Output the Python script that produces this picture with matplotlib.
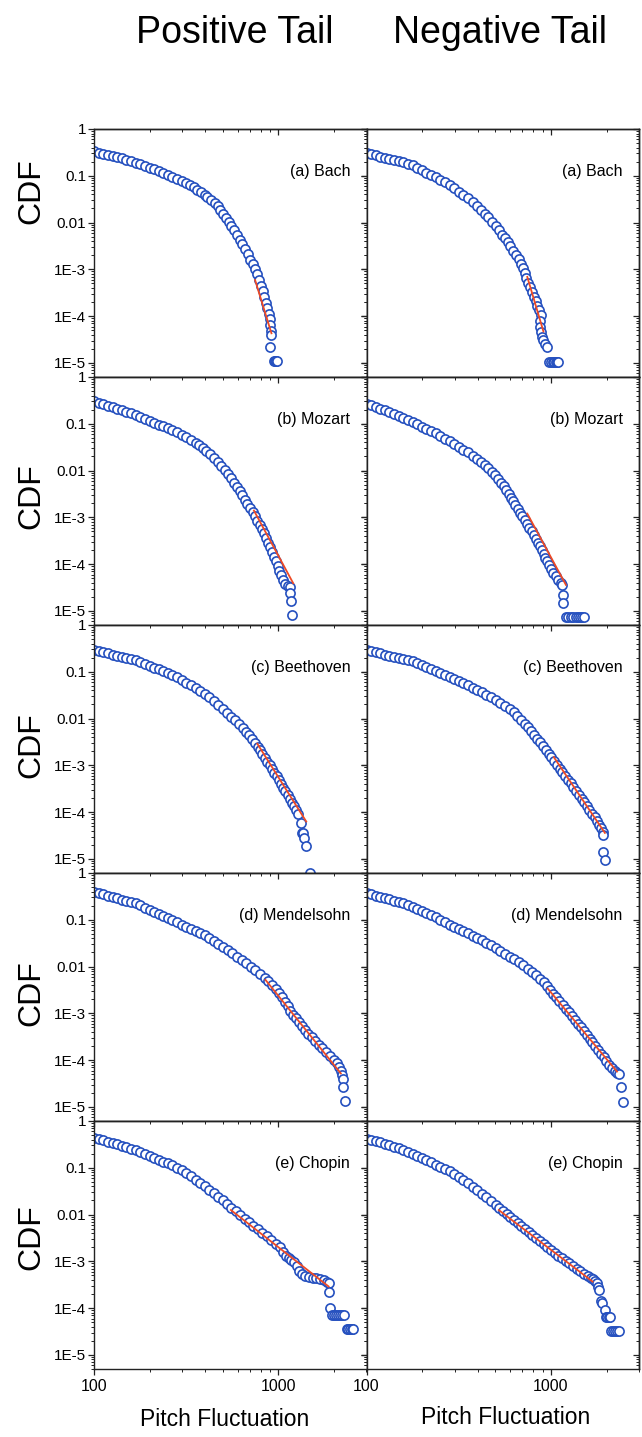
import matplotlib
matplotlib.use("Agg")
import matplotlib.pyplot as plt
from matplotlib.ticker import FixedLocator, FixedFormatter, NullFormatter, LogLocator

FONT = ["Liberation Sans", "DejaVu Sans"]

column_titles = ["Positive Tail", "Negative Tail"]
composers = ["(a) Bach", "(b) Mozart", "(c) Beethoven", "(d) Mendelsohn", "(e) Chopin"]

y_ticks = [1, 0.1, 0.01, 1e-3, 1e-4, 1e-5]
y_tick_labels = ["1", "0.1", "0.01", "1E-3", "1E-4", "1E-5"]
x_ticks = [100, 1000]
x_tick_labels = ["100", "1000"]

# x values of the dense, slowly falling head shared by every curve
head_x = [100, 106, 112, 119, 126, 133, 141, 150, 158, 168, 178, 188, 200, 211, 224, 237, 251,
          266, 282, 299]

# ---- (a) Bach ----
bach_pos_x = head_x + [316, 331, 347, 363, 380, 398, 412, 432, 450, 468, 484, 501, 519, 537, 556,
                       575, 596, 617, 638, 661, 684, 705, 724, 745, 766, 785, 804, 822, 839, 855,
                       871, 885, 895, 904, 908, 906, 902, 940, 955, 970, 985]
bach_pos_y = [0.331, 0.314, 0.297, 0.282, 0.267, 0.253, 0.239, 0.222, 0.205, 0.189, 0.175, 0.161,
              0.149, 0.137, 0.125, 0.114, 0.104, 0.0944, 0.0861, 0.0776,
              0.069, 0.063, 0.0569, 0.0507, 0.0447, 0.0389, 0.0347, 0.0305, 0.0263, 0.0224,
              0.0186, 0.0155, 0.0126, 0.0102, 0.0083, 0.0068, 0.0054, 0.0043, 0.0034, 0.0027,
              0.0021, 0.00162, 0.00129, 0.0010, 7.8e-4, 5.9e-4, 4.5e-4, 3.4e-4, 2.6e-4, 1.95e-4,
              1.48e-4, 1.12e-4, 8.5e-5, 6.5e-5, 4.9e-5, 4.0e-5, 2.2e-5, 1.1e-5, 1.1e-5, 1.1e-5,
              1.1e-5]
bach_pos_fit_x = [747, 916]
bach_pos_fit_y = [5.9e-4, 4.3e-5]

bach_neg_x = head_x + [316, 335, 355, 376, 398, 417, 437, 457, 479, 501, 522, 543, 562, 582, 603,
                       624, 646, 667, 685, 703, 719, 736, 753, 771, 789, 807, 826, 845, 865, 883,
                       870, 872, 880, 895, 910, 930, 955, 980, 1000, 1020, 1040, 1060, 1075, 1090]
bach_neg_y = [0.302, 0.286, 0.272, 0.258, 0.244, 0.231, 0.219, 0.207, 0.195, 0.182, 0.166, 0.148,
              0.132, 0.117, 0.105, 0.093, 0.083, 0.0733, 0.063, 0.0537,
              0.0457, 0.0389, 0.0327, 0.0272, 0.0221, 0.0186, 0.0155, 0.0129, 0.0105, 0.0083,
              0.0068, 0.0055, 0.0046, 0.0038, 0.0031, 0.0025, 0.00204, 0.00166, 0.00132,
              0.00105, 8.3e-4, 6.6e-4, 5.2e-4, 4.2e-4, 3.3e-4, 2.6e-4, 2.1e-4, 1.66e-4, 1.32e-4,
              1.05e-4, 8e-5, 6e-5, 4.5e-5, 3.6e-5, 3.1e-5, 2.6e-5, 2.2e-5, 1.05e-5, 1.05e-5,
              1.05e-5, 1.05e-5, 1.05e-5, 1.05e-5, 1.05e-5]
bach_neg_fit_x = [744, 910]
bach_neg_fit_y = [6.9e-4, 4.7e-5]

# ---- (b) Mozart ----
mozart_pos_x = head_x + [316, 335, 355, 372, 389, 407, 427, 447, 468, 490, 511, 532, 555, 575,
                         596, 617, 637, 658, 679, 701, 724, 746, 769, 791, 813, 836, 859, 881,
                         904, 925, 946, 968, 989, 1009, 1030, 1052, 1084, 1122, 1153, 1160, 1165,
                         1183]
mozart_pos_y = [0.300, 0.279, 0.259, 0.240, 0.223, 0.207, 0.193, 0.179, 0.166, 0.154, 0.140,
                0.128, 0.116, 0.106, 0.096, 0.0875, 0.0796, 0.0724, 0.0653, 0.0582,
                0.0513, 0.0447, 0.0389, 0.0347, 0.0302, 0.026, 0.0221, 0.0186, 0.0155, 0.0126,
                0.0102, 0.0083, 0.0068, 0.0055, 0.0045, 0.0036, 0.0030, 0.0024, 0.00195,
                0.00158, 0.00129, 0.00105, 8.5e-4, 6.9e-4, 5.6e-4, 4.6e-4, 3.6e-4, 2.9e-4,
                2.3e-4, 1.82e-4, 1.45e-4, 1.15e-4, 9.1e-5, 7.2e-5, 5.8e-5, 4.6e-5, 3.8e-5,
                3.4e-5, 3.2e-5, 2.4e-5, 1.6e-5, 8.1e-6]
mozart_pos_fit_x = [736, 1202]
mozart_pos_fit_y = [1.4e-3, 3.9e-5]

mozart_neg_x = head_x + [316, 335, 355, 376, 398, 417, 437, 457, 479, 498, 516, 535, 553, 571,
                         589, 607, 624, 641, 659, 678, 698, 719, 741, 764, 785, 807, 828, 849,
                         871, 891, 912, 933, 955, 977, 1002, 1030, 1062, 1096, 1130, 1153, 1160,
                         1168, 1205, 1240, 1280, 1320, 1360, 1400, 1440, 1480, 1514]
mozart_neg_y = [0.269, 0.248, 0.229, 0.211, 0.193, 0.176, 0.160, 0.146, 0.133, 0.122, 0.110,
                0.098, 0.087, 0.078, 0.069, 0.062, 0.0543, 0.0479, 0.0422, 0.0372,
                0.0324, 0.0282, 0.0245, 0.0209, 0.0174, 0.0150, 0.0129, 0.0111, 0.0095, 0.0079,
                0.0066, 0.0055, 0.0046, 0.0038, 0.0032, 0.0026, 0.00219, 0.00182, 0.00151,
                0.00126, 0.00105, 8.7e-4, 7.2e-4, 6.0e-4, 5.0e-4, 4.2e-4, 3.5e-4, 2.9e-4,
                2.4e-4, 2.0e-4, 1.66e-4, 1.38e-4, 1.15e-4, 9.5e-5, 7.9e-5, 6.6e-5, 5.5e-5,
                4.6e-5, 4.0e-5, 3.5e-5, 2.2e-5, 1.5e-5, 7.4e-6, 7.4e-6, 7.4e-6, 7.4e-6, 7.4e-6,
                7.4e-6, 7.4e-6, 7.4e-6, 7.4e-6]
mozart_neg_fit_x = [744, 1205]
mozart_neg_fit_y = [1.2e-3, 3.6e-5]

# ---- (c) Beethoven ----
beet_pos_x = head_x + [316, 335, 355, 376, 398, 422, 447, 473, 501, 527, 555, 583, 611, 640, 668,
                       695, 721, 746, 771, 794, 818, 843, 869, 895, 923, 951, 977, 1005, 1033,
                       1062, 1091, 1122, 1153, 1186, 1219, 1250, 1276, 1320, 1340, 1355, 1378,
                       1414, 1490]
beet_pos_y = [0.288, 0.274, 0.259, 0.246, 0.233, 0.221, 0.210, 0.200, 0.188, 0.178, 0.162, 0.148,
              0.135, 0.123, 0.112, 0.102, 0.093, 0.085, 0.076, 0.0668,
              0.0589, 0.0513, 0.0447, 0.0394, 0.0343, 0.0285, 0.0237, 0.0195, 0.016, 0.0133,
              0.011, 0.0091, 0.0076, 0.0063, 0.0052, 0.0044, 0.0036, 0.0030, 0.0025, 0.0021,
              0.00174, 0.00145, 0.0012, 0.0010, 8.3e-4, 6.9e-4, 5.8e-4, 4.8e-4, 4.0e-4, 3.3e-4,
              2.8e-4, 2.3e-4, 1.9e-4, 1.58e-4, 1.32e-4, 1.1e-4, 9.1e-5, 5.8e-5, 3.6e-5, 3.5e-5,
              2.8e-5, 1.9e-5, 5e-6]
beet_pos_fit_x = [768, 1414]
beet_pos_fit_y = [2.9e-3, 6.3e-5]

beet_neg_x = head_x + [316, 335, 355, 376, 398, 422, 447, 473, 501, 531, 562, 596, 627, 658, 689,
                       719, 750, 780, 811, 841, 873, 906, 938, 971, 1005, 1040, 1076, 1114, 1153,
                       1194, 1236, 1279, 1324, 1371, 1419, 1466, 1514, 1563, 1614, 1667, 1722,
                       1778, 1828, 1875, 1905, 1906, 1906, 1960]
beet_neg_y = [0.288, 0.274, 0.259, 0.246, 0.233, 0.221, 0.210, 0.200, 0.191, 0.182, 0.166, 0.151,
              0.138, 0.126, 0.115, 0.105, 0.0955, 0.087, 0.079, 0.0716,
              0.0646, 0.0575, 0.0513, 0.0457, 0.0407, 0.0363, 0.0324, 0.0285, 0.0248, 0.0216,
              0.0186, 0.0158, 0.0135, 0.0112, 0.0093, 0.0078, 0.0065, 0.0054, 0.0045, 0.0037,
              0.0031, 0.0026, 0.00214, 0.00178, 0.00148, 0.00123, 0.00102, 8.5e-4, 7.1e-4,
              5.9e-4, 4.9e-4, 4.1e-4, 3.4e-4, 2.8e-4, 2.3e-4, 1.95e-4, 1.62e-4, 1.35e-4,
              1.12e-4, 9.3e-5, 7.8e-5, 6.5e-5, 5.4e-5, 4.5e-5, 3.7e-5, 3.2e-5, 1.4e-5, 9.4e-6]
beet_neg_fit_x = [1036, 1960]
beet_neg_fit_y = [1.5e-3, 3.6e-5]

# ---- (d) Mendelsohn ----
mend_pos_x = head_x + [316, 335, 355, 376, 398, 422, 447, 473, 501, 531, 562, 596, 631, 668, 708,
                       750, 794, 841, 881, 923, 966, 1007, 1047, 1084, 1122, 1161, 1202, 1247,
                       1294, 1343, 1396, 1452, 1514, 1578, 1648, 1726, 1811, 1905, 1995, 2065,
                       2128, 2178, 2213, 2228, 2225, 2293]
mend_pos_y = [0.398, 0.373, 0.350, 0.328, 0.308, 0.288, 0.270, 0.254, 0.238, 0.223, 0.202, 0.182,
              0.164, 0.148, 0.133, 0.120, 0.108, 0.098, 0.088, 0.079,
              0.0716, 0.0646, 0.0575, 0.0519, 0.0462, 0.0403, 0.0347, 0.0299, 0.0257, 0.0221,
              0.0191, 0.0164, 0.0141, 0.012, 0.010, 0.0083, 0.0069, 0.0058, 0.0049, 0.0041,
              0.0033, 0.0027, 0.0022, 0.00178, 0.00141, 0.00115, 9.3e-4, 7.8e-4, 6.5e-4, 5.4e-4,
              4.5e-4, 3.7e-4, 3.1e-4, 2.6e-4, 2.1e-4, 1.78e-4, 1.48e-4, 1.23e-4, 1.02e-4,
              8.5e-5, 7.1e-5, 5.9e-5, 4.9e-5, 4.0e-5, 2.7e-5, 1.35e-5]
mend_pos_fit_x = [850, 2178]
mend_pos_fit_y = [5.2e-3, 5.2e-5]

mend_neg_x = head_x + [316, 335, 355, 376, 398, 422, 447, 473, 501, 531, 562, 596, 631, 668, 708,
                       750, 794, 832, 871, 912, 951, 989, 1028, 1069, 1112, 1156, 1202, 1250,
                       1297, 1346, 1396, 1449, 1503, 1560, 1618, 1679, 1738, 1799, 1862, 1928,
                       1995, 2065, 2138, 2213, 2291, 2339, 2400, 2470]
mend_neg_y = [0.372, 0.349, 0.328, 0.308, 0.290, 0.272, 0.256, 0.240, 0.225, 0.211, 0.191, 0.172,
              0.155, 0.140, 0.126, 0.112, 0.100, 0.089, 0.079, 0.0708,
              0.0638, 0.0575, 0.0513, 0.0457, 0.0407, 0.0363, 0.0324, 0.0285, 0.0248, 0.0216,
              0.0188, 0.0164, 0.0143, 0.0124, 0.0107, 0.009, 0.0075, 0.0065, 0.0055, 0.0046,
              0.0038, 0.0032, 0.0026, 0.0022, 0.0018, 0.00151, 0.00126, 0.00105, 8.7e-4,
              7.2e-4, 6.0e-4, 5.0e-4, 4.2e-4, 3.5e-4, 2.9e-4, 2.4e-4, 2.0e-4, 1.66e-4,
              1.38e-4, 1.15e-4, 9.5e-5, 7.9e-5, 6.8e-5, 6.0e-5, 5.4e-5, 5.1e-5, 2.7e-5, 1.3e-5]
mend_neg_fit_x = [959, 2280]
mend_neg_fit_y = [3.4e-3, 5.7e-5]

# ---- (e) Chopin ----
chopin_pos_x = head_x + [316, 335, 355, 376, 398, 422, 447, 473, 501, 527, 555, 586, 619, 655,
                         692, 731, 773, 817, 863, 912, 964, 1019, 1059, 1096, 1135, 1175, 1216,
                         1259, 1297, 1343, 1396, 1462, 1531, 1603, 1679, 1758, 1828, 1871, 1890,
                         1900, 1960, 2000, 2050, 2100, 2150, 2200, 2260, 2340, 2390, 2440, 2490,
                         2540]
chopin_pos_y = [0.430, 0.406, 0.383, 0.361, 0.339, 0.316, 0.295, 0.275, 0.257, 0.237, 0.216,
                0.197, 0.180, 0.164, 0.150, 0.136, 0.124, 0.112, 0.100, 0.088,
                0.076, 0.0653, 0.0556, 0.0473, 0.0403, 0.0343, 0.0288, 0.0243, 0.0204, 0.017,
                0.0141, 0.0117, 0.0098, 0.0081, 0.0068, 0.0058, 0.0048, 0.0041, 0.0034, 0.0029,
                0.0024, 0.0020, 0.0016, 0.0013, 0.00117, 0.00107, 9.5e-4, 7.9e-4, 6.3e-4,
                5.4e-4, 4.9e-4, 4.7e-4, 4.5e-4, 4.3e-4, 4.1e-4, 3.9e-4, 3.6e-4, 3.4e-4, 2.2e-4,
                1e-4, 7e-5, 7e-5, 7e-5, 7e-5, 7e-5, 7e-5, 7e-5, 3.6e-5, 3.6e-5, 3.6e-5, 3.6e-5,
                3.6e-5]
chopin_pos_fit_x = [552, 1870]
chopin_pos_fit_y = [1.25e-2, 2.9e-4]

chopin_neg_x = head_x + [316, 335, 355, 376, 398, 422, 447, 473, 501, 525, 550, 575, 603, 631,
                         661, 692, 724, 759, 794, 832, 871, 912, 955, 1000, 1047, 1096, 1148,
                         1202, 1259, 1318, 1380, 1445, 1514, 1585, 1641, 1690, 1738, 1778, 1799,
                         1828, 1860, 1900, 1960, 1980, 2020, 2060, 2090, 2115, 2170, 2230, 2290,
                         2340]
chopin_neg_y = [0.41, 0.389, 0.369, 0.348, 0.327, 0.305, 0.282, 0.260, 0.240, 0.219, 0.197,
                0.178, 0.160, 0.145, 0.130, 0.117, 0.106, 0.0955, 0.085, 0.074,
                0.0638, 0.0543, 0.0462, 0.0389, 0.0327, 0.0275, 0.0232, 0.0195, 0.0164, 0.0140,
                0.0120, 0.0103, 0.0088, 0.0076, 0.0066, 0.0057, 0.0049, 0.0042, 0.0036, 0.0031,
                0.0027, 0.0023, 0.0020, 0.00175, 0.00152, 0.00133, 0.00116, 0.00102, 9.0e-4,
                7.9e-4, 6.9e-4, 6.1e-4, 5.4e-4, 4.8e-4, 4.4e-4, 4.1e-4, 3.8e-4, 3.4e-4, 2.8e-4,
                2.5e-4, 1.4e-4, 1.3e-4, 9e-5, 6.6e-5, 6.6e-5, 6.6e-5, 6.6e-5, 3.2e-5, 3.2e-5,
                3.2e-5, 3.2e-5, 3.2e-5]
chopin_neg_fit_x = [521, 1680]
chopin_neg_fit_y = [1.25e-2, 3.7e-4]

panels = [
    [(bach_pos_x, bach_pos_y, bach_pos_fit_x, bach_pos_fit_y),
     (bach_neg_x, bach_neg_y, bach_neg_fit_x, bach_neg_fit_y)],
    [(mozart_pos_x, mozart_pos_y, mozart_pos_fit_x, mozart_pos_fit_y),
     (mozart_neg_x, mozart_neg_y, mozart_neg_fit_x, mozart_neg_fit_y)],
    [(beet_pos_x, beet_pos_y, beet_pos_fit_x, beet_pos_fit_y),
     (beet_neg_x, beet_neg_y, beet_neg_fit_x, beet_neg_fit_y)],
    [(mend_pos_x, mend_pos_y, mend_pos_fit_x, mend_pos_fit_y),
     (mend_neg_x, mend_neg_y, mend_neg_fit_x, mend_neg_fit_y)],
    [(chopin_pos_x, chopin_pos_y, chopin_pos_fit_x, chopin_pos_fit_y),
     (chopin_neg_x, chopin_neg_y, chopin_neg_fit_x, chopin_neg_fit_y)],
]

# where the rotated "CDF" sits in each row (pixels from the top)
cdf_label_y = [191, 496, 745, 993, 1237]

W, H = 642, 1437
fig = plt.figure(figsize=(W / 100, H / 100), dpi=100)
fig.patch.set_facecolor("white")
axes = fig.subplots(5, 2, sharex=True, sharey=True,
                    gridspec_kw=dict(left=94 / W, right=639 / W, top=1 - 129 / H,
                                     bottom=1 - 1369 / H, wspace=0, hspace=0))

marker_color = "#2550bf"
fit_color = "#ee4a25"
axis_color = "#222222"


def minor_log():
    return LogLocator(base=10, subs=range(2, 10), numticks=20)


for r in range(5):
    for c in range(2):
        ax = axes[r, c]
        xs, ys, fx, fy = panels[r][c]
        ax.plot(xs, ys, linestyle="none", marker="o", markersize=6.6,
                markerfacecolor="white", markeredgecolor=marker_color,
                markeredgewidth=1.2, zorder=2)
        ax.plot(fx, fy, color=fit_color, linewidth=1.3, zorder=3)
        ax.set_xscale("log")
        ax.set_yscale("log")
        ax.set_xlim(100, 3000)
        ax.set_ylim(5e-6, 1)

        ax.text(0.94, 0.83, composers[r], transform=ax.transAxes, ha="right", va="center",
                fontsize=11.5, family=FONT)

        for s in ax.spines.values():
            s.set_linewidth(1.0)
            s.set_color(axis_color)

        ax.yaxis.set_major_locator(FixedLocator(y_ticks))
        ax.yaxis.set_major_formatter(FixedFormatter(y_tick_labels))
        ax.yaxis.set_minor_locator(minor_log())
        ax.yaxis.set_minor_formatter(NullFormatter())
        ax.xaxis.set_major_locator(FixedLocator(x_ticks))
        ax.xaxis.set_major_formatter(FixedFormatter(x_tick_labels))
        ax.xaxis.set_minor_locator(minor_log())
        ax.xaxis.set_minor_formatter(NullFormatter())

        ax.tick_params(which="both", direction="out", top=False, right=False, color=axis_color)
        ax.tick_params(which="major", length=4, width=0.9)
        ax.tick_params(which="minor", length=2.2, width=0.7)
        ax.tick_params(axis="y", labelsize=11, pad=1.5, labelleft=(c == 0))
        ax.tick_params(axis="x", labelsize=11.5, pad=3, labelbottom=(r == 4))
        for lab in ax.get_xticklabels() + ax.get_yticklabels():
            lab.set_family(FONT)

        # inward ticks on the top and right edges
        top = ax.secondary_xaxis("top")
        top.xaxis.set_major_locator(FixedLocator(x_ticks))
        top.xaxis.set_minor_locator(minor_log())
        top.xaxis.set_major_formatter(NullFormatter())
        top.xaxis.set_minor_formatter(NullFormatter())
        top.tick_params(which="both", direction="in", color=axis_color)
        top.tick_params(which="major", length=4, width=0.9)
        top.tick_params(which="minor", length=2.2, width=0.7)
        top.spines["top"].set_linewidth(1.0)

        right = ax.secondary_yaxis("right")
        right.yaxis.set_major_locator(FixedLocator(y_ticks))
        right.yaxis.set_minor_locator(minor_log())
        right.yaxis.set_major_formatter(NullFormatter())
        right.yaxis.set_minor_formatter(NullFormatter())
        right.tick_params(which="both", direction="in", color=axis_color)
        right.tick_params(which="major", length=4, width=0.9)
        right.tick_params(which="minor", length=2.2, width=0.7)
        right.spines["right"].set_linewidth(1.0)

    fig.text(31 / W, 1 - cdf_label_y[r] / H, "CDF", rotation=90, ha="center", va="center",
             fontsize=23, family=FONT)

fig.text(235 / W, 1 - 33 / H, column_titles[0], ha="center", va="center", fontsize=27,
         family=FONT)
fig.text(500 / W, 1 - 33 / H, column_titles[1], ha="center", va="center", fontsize=27,
         family=FONT)
fig.text(225 / W, 1 - 1419 / H, "Pitch Fluctuation", ha="center", va="center", fontsize=16.5,
         family=FONT)
fig.text(506 / W, 1 - 1417 / H, "Pitch Fluctuation", ha="center", va="center", fontsize=16.5,
         family=FONT)

fig.savefig("out.png", dpi=100, facecolor="white")
